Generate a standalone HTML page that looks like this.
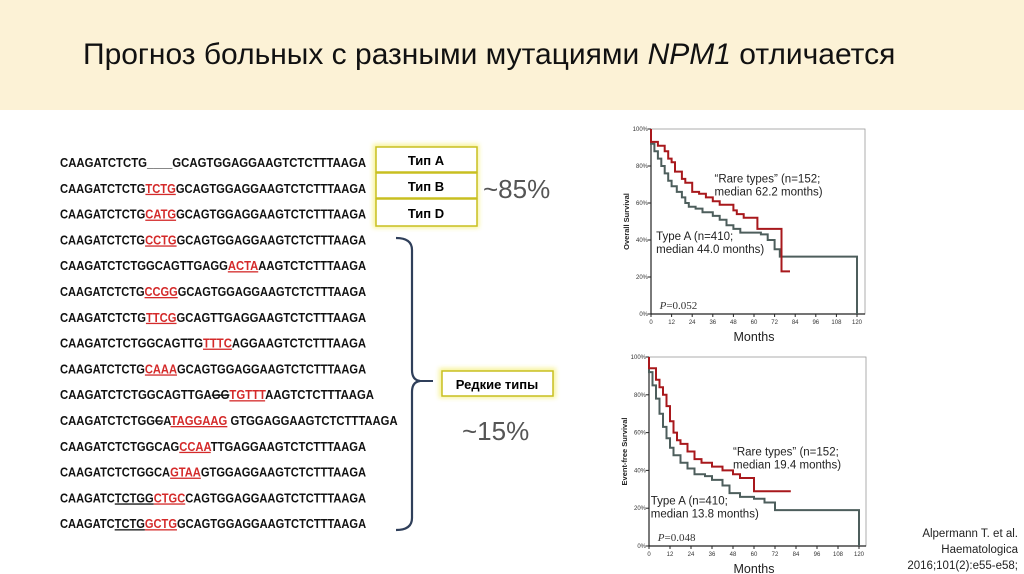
<!DOCTYPE html>
<html><head><meta charset="utf-8"><style>
html,body{margin:0;padding:0;background:#fff;}
body{width:1024px;height:574px;overflow:hidden;position:relative;font-family:"Liberation Sans","DejaVu Sans",sans-serif;}
</style></head><body>
<svg id="s" width="1024" height="574" viewBox="0 0 1024 574" xmlns="http://www.w3.org/2000/svg" style="position:absolute;left:0;top:0">
<defs><filter id="glow" x="-20%" y="-40%" width="140%" height="180%"><feGaussianBlur stdDeviation="2.5"/></filter></defs>
<rect x="0" y="0" width="1024" height="110" fill="#fcf2d6"/>
<text x="83" y="64" font-size="30" fill="#111" font-family="Liberation Sans, sans-serif">Прогноз больных с разными мутациями <tspan font-style="italic">NPM1</tspan> отличается</text>
<g id="seqs" font-family="Liberation Sans, sans-serif" font-weight="bold" font-size="13" fill="#111"></g>
<g>
<rect x="373" y="144" width="106" height="84" fill="#f4ee70" filter="url(#glow)" opacity="0.7"/>
<rect x="376" y="147" width="101" height="25" fill="#fff" stroke="#c8bf20" stroke-width="1.5"/>
<rect x="376" y="173" width="101" height="25" fill="#fff" stroke="#c8bf20" stroke-width="1.5"/>
<rect x="376" y="199" width="101" height="27" fill="#fff" stroke="#c8bf20" stroke-width="1.5"/>
<text x="426" y="165" font-size="13" font-weight="bold" text-anchor="middle">Тип A</text>
<text x="426" y="191" font-size="13" font-weight="bold" text-anchor="middle">Тип B</text>
<text x="426" y="218" font-size="13" font-weight="bold" text-anchor="middle">Тип D</text>
</g>
<text x="483" y="198" font-size="26" fill="#555">~85%</text>
<path d="M396,238 Q412,238 412,250 L412,370 Q412,380 420,381 Q412,382 412,392 L412,518 Q412,530 396,530" fill="none" stroke="#2f3f5a" stroke-width="2.2"/>
<line x1="420" y1="381" x2="433" y2="381" stroke="#2f3f5a" stroke-width="2"/>
<g>
<rect x="439" y="368" width="117" height="30" fill="#f4ee70" filter="url(#glow)" opacity="0.7"/>
<rect x="442" y="371" width="111" height="25" fill="#fff" stroke="#c8bf20" stroke-width="1.5"/>
<text x="497" y="389" font-size="13" font-weight="bold" text-anchor="middle">Редкие типы</text>
</g>
<text x="462" y="440" font-size="26" fill="#555">~15%</text>
<g id="c1"></g>
<g id="c2"></g>
<g font-size="11.5" fill="#222" text-anchor="end">
<text x="1018" y="537">Alpermann T. et al.</text>
<text x="1018" y="553">Haematologica</text>
<text x="1018" y="569">2016;101(2):e55-e58;</text>
</g>
</svg>
<script>
const NS="http://www.w3.org/2000/svg";
const seqRows=[
[["CAAGATCTCTG____GCAGTGGAGGAAGTCTCTTTAAGA","n"]],
[["CAAGATCTCTG","n"],["TCTG","r"],["GCAGTGGAGGAAGTCTCTTTAAGA","n"]],
[["CAAGATCTCTG","n"],["CATG","r"],["GCAGTGGAGGAAGTCTCTTTAAGA","n"]],
[["CAAGATCTCTG","n"],["CCTG","r"],["GCAGTGGAGGAAGTCTCTTTAAGA","n"]],
[["CAAGATCTCTGGCAGTTGAGG","n"],["ACTA","r"],["AAGTCTCTTTAAGA","n"]],
[["CAAGATCTCTG","n"],["CCGG","r"],["GCAGTGGAGGAAGTCTCTTTAAGA","n"]],
[["CAAGATCTCTG","n"],["TTCG","r"],["GCAGTTGAGGAAGTCTCTTTAAGA","n"]],
[["CAAGATCTCTGGCAGTTG","n"],["TTTC","r"],["AGGAAGTCTCTTTAAGA","n"]],
[["CAAGATCTCTG","n"],["CAAA","r"],["GCAGTGGAGGAAGTCTCTTTAAGA","n"]],
[["CAAGATCTCTGGCAGTTGA","n"],["GG","s"],["TGTTT","r"],["AAGTCTCTTTAAGA","n"]],
[["CAAGATCTCTGG","n"],["C","s"],["A","n"],["TAGGAAG","r"],[" GTGGAGGAAGTCTCTTTAAGA","n"]],
[["CAAGATCTCTGGCAG","n"],["CCAA","r"],["TTGAGGAAGTCTCTTTAAGA","n"]],
[["CAAGATCTCTGGCA","n"],["GTAA","r"],["GTGGAGGAAGTCTCTTTAAGA","n"]],
[["CAAGATC","n"],["TCTGG","u"],["CTGC","r"],["CAGTGGAGGAAGTCTCTTTAAGA","n"]],
[["CAAGATC","n"],["TCTG","u"],["GCTG","r"],["GCAGTGGAGGAAGTCTCTTTAAGA","n"]]
];
const g=document.getElementById('seqs');
seqRows.forEach((row,i)=>{
  const t=document.createElementNS(NS,'text');
  
  
  const y=167+i*25.8;
  t.setAttribute('x',60);t.setAttribute('y',y);
  let n=0;row.forEach(s=>n+=s[0].length);
  t.setAttribute('textLength',(n*7.85).toFixed(1));
  t.setAttribute('lengthAdjust','spacingAndGlyphs');
  row.forEach(s=>{
    const ts=document.createElementNS(NS,'tspan');
    ts.textContent=s[0];
    if(s[1]=='r'){ts.setAttribute('fill','#d42a2a');ts.setAttribute('text-decoration','underline');}
    if(s[1]=='u'){ts.setAttribute('text-decoration','underline');}
    if(s[1]=='s'){ts.setAttribute('text-decoration','line-through');}
    t.appendChild(ts);
  });
  g.appendChild(t);
});

const xTicks=[0,12,24,36,48,60,72,84,96,108,120];
const yTicks=[0,20,40,60,80,100];
const os_typeA_m=[0,0,2,4,6,8,10,12,15,18,20,22,26,30,36,40,44,48,52,60,64,68,72,75,120,120];
const os_typeA_p=[100,92,88,84,80,76,72,69,66,63,60,58,57,55,53,51,48,46,44,44,43,40,35,31,31,0];
const os_rare_m=[0,0,4,8,10,12,14,18,20,24,28,32,36,40,48,50,54,62,62,76,76,81];
const os_rare_p=[100,93,91,88,84,82,77,73,71,66,65,63,61,59,56,54,52,52,46,46,23,23];
const efs_typeA_m=[0,0,2,4,6,8,10,12,14,18,22,26,32,36,42,46,52,60,66,72,74,120,120];
const efs_typeA_p=[100,92,85,78,70,63,57,52,48,44,41,38,37,35,32,28,26,25,23,19,19,19,0];
const efs_rare_m=[0,0,4,6,8,10,12,14,16,18,22,26,30,36,42,48,52,58,60,81];
const efs_rare_p=[100,94,88,84,80,74,66,60,56,54,50,46,44,42,40,38,36,36,29,29];

function el(tag,attrs,parent){const e=document.createElementNS(NS,tag);for(const k in attrs)e.setAttribute(k,attrs[k]);parent.appendChild(e);return e;}
function chart(id,x0,x1,y0,y1,right,ytitle,A_m,A_p,R_m,R_p,rareTxt,rareY,aTxt,aY,pTxt){
  const G=document.getElementById(id);
  const sx=m=>x0+(x1-x0)*m/120, sy=p=>y0-(y0-y1)*p/100;
  el('rect',{x:x0,y:y1,width:right-x0,height:y0-y1,fill:'#fff',stroke:'#999','stroke-width':0.8},G);
  el('line',{x1:x0,y1:y0,x2:right,y2:y0,stroke:'#222','stroke-width':1.2},G);
  el('line',{x1:x0,y1:y0,x2:x0,y2:y1,stroke:'#222','stroke-width':1.2},G);
  xTicks.forEach(v=>{el('line',{x1:sx(v),y1:y0,x2:sx(v),y2:y0+3,stroke:'#222'},G);
    const t=el('text',{x:sx(v),y:y0+10,'font-size':6,'text-anchor':'middle',fill:'#333'},G);t.textContent=v;
    });
  yTicks.forEach(v=>{el('line',{x1:x0-3,y1:sy(v),x2:x0,y2:sy(v),stroke:'#222'},G);
    const t=el('text',{x:x0-3,y:sy(v)+2,'font-size':6,'text-anchor':'end',fill:'#333'},G);t.textContent=v+'%';
    });
  const xt=el('text',{x:(x0+x1)/2,y:y0+27,'font-size':12.5,'text-anchor':'middle',fill:'#222'},G);xt.textContent='Months';
  
  const yt=el('text',{x:0,y:0,'font-size':7.5,'font-weight':'bold','text-anchor':'middle',fill:'#222',transform:'translate('+(x0-22)+','+((y0+y1)/2)+') rotate(-90)'},G);yt.textContent=ytitle;
  
  function step(ms,ps,col,name){
    let d='M'+sx(ms[0]).toFixed(1)+','+sy(ps[0]).toFixed(1);
    for(let i=1;i<ms.length;i++){d+='H'+sx(ms[i]).toFixed(1)+'V'+sy(ps[i]).toFixed(1);}
    const p=el('path',{d:d,fill:'none',stroke:col,'stroke-width':2},G);
    
    
  }
  step(A_m,A_p,'#4d5e5c','type-a-curve');
  step(R_m,R_p,'#a8181c','rare-types-curve');
  rareTxt.forEach((s,i)=>{const t=el('text',{x:sx(rareY[0]),y:sy(rareY[1])+i*13,'font-size':11.5,fill:'#222'},G);t.textContent=s;});
  aTxt.forEach((s,i)=>{const t=el('text',{x:sx(aY[0]),y:sy(aY[1])+i*13,'font-size':11.5,fill:'#222'},G);t.textContent=s;});
  const pt=el('text',{x:sx(5),y:y0-5,'font-size':11,fill:'#333','font-family':'Liberation Serif, serif'},G);
  const pi=el('tspan',{'font-style':'italic'},pt);pi.textContent='P';
  const pv=el('tspan',{},pt);pv.textContent='='+pTxt;
  
}
chart('c1',651,857,314,129,865,'Overall Survival',os_typeA_m,os_typeA_p,os_rare_m,os_rare_p,
 ['“Rare types” (n=152;','median 62.2 months)'],[37,71],['Type A (n=410;','median 44.0 months)'],[3,40],'0.052');
chart('c2',649,859,546,357,866,'Event-free Survival',efs_typeA_m,efs_typeA_p,efs_rare_m,efs_rare_p,
 ['“Rare types” (n=152;','median 19.4 months)'],[48,48],['Type A (n=410;','median 13.8 months)'],[1,22],'0.048');
</script>
</body></html>
